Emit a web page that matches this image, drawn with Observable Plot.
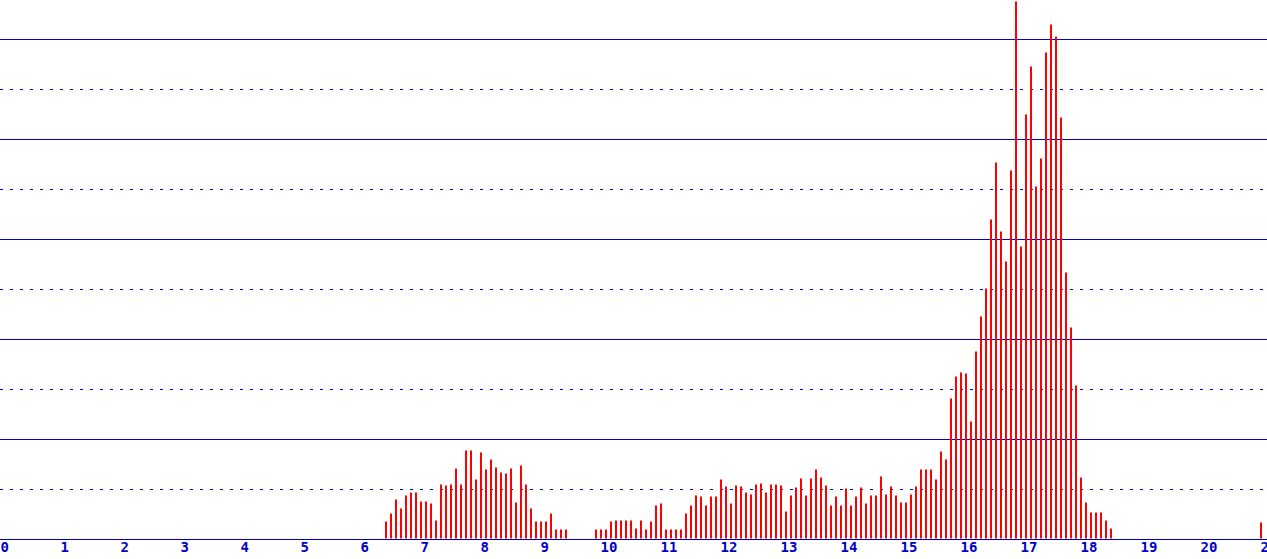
<!DOCTYPE html>
<html><head><meta charset="utf-8">
<script src="https://cdn.jsdelivr.net/npm/d3@7"></script>
<script src="https://cdn.jsdelivr.net/npm/@observablehq/plot@0.6"></script>
<style>html,body{margin:0;padding:0;background:#fff;overflow:hidden}</style>
</head><body><div id="chart"></div>
<script>
// Histogram bins: regular bins of 1/12 unit, starting at 6 + 5/12
const firstBin = 6 + 5/12;
const binStep = 1/12;
// bar heights (grid step = 50)
const counts = [
  17,25,39,30,43,46,46,37,37,35,18,54,53,54,70,54,88,88,59,86,69,79,71,66,65,70,36,73,54,30,17,17,17,25,9,9,9,
  0,0,0,0,0,
  9,9,9,17,18,18,18,18,10,18,9,17,33,35,9,9,9,9,25,33,43,42,33,42,42,59,52,35,53,52,46,44,54,55,46,54,54,
  53,27,43,51,60,43,60,69,61,53,33,42,33,50,33,42,51,35,43,43,62,44,52,43,36,36,44,52,69,69,69,59,87,79,
  140,162,166,165,117,187,222,250,
  319,376,307,277,368,537,292,424,472,352,380,486,514,502,421,266,
  211,153,61,36,26,26,26,18,10,
  0,0,0,0,0,0,0,0,0,0,0,0,0,0,0,0,0,0,0,0,0,0,0,0,0,0,0,0,0,
  16
];
const xTicks = [0,1,2,3,4,5,6,7,8,9,10,11,12,13,14,15,16,17,18,19,20,21];
const solidGrid = [100,200,300,400,500];
const dottedGrid = [50,150,250,350,450];

const bars = counts.map((v, i) => ({x: firstBin + i * binStep, v})).filter(d => d.v > 0);

const W = 1267, H = 559;
const lineColor = "#0000cc";
const chart = Plot.plot({
  width: W, height: H,
  marginTop: 0, marginBottom: 20, marginLeft: 0, marginRight: 0,
  x: {domain: [0, W / 60], axis: null},
  y: {domain: [0, 539], axis: null},
  style: {background: "#fff", overflow: "hidden"},
  marks: [
    Plot.ruleY(dottedGrid, {stroke: lineColor, strokeDasharray: "3,7"}),
    Plot.ruleY(solidGrid, {stroke: lineColor}),
    Plot.ruleX(bars, {x: "x", y1: 0, y2: "v", stroke: "#ff0000", strokeWidth: 2, dx: 0.5, dy: -0.5}),
    Plot.ruleY([0], {stroke: lineColor}),
    Plot.text(xTicks, {x: d => d, y: 0, text: d => String(d), textAnchor: "start", lineAnchor: "top", dy: 3,
      fill: lineColor, fontSize: 14, fontWeight: "bold", fontFamily: "DejaVu Sans Mono"})
  ]
});
document.getElementById("chart").appendChild(chart);
</script>
</body></html>
